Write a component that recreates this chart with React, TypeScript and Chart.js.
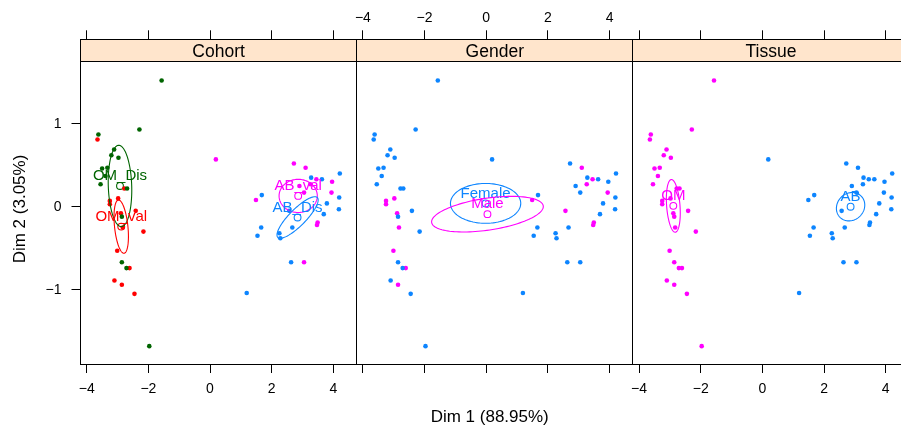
import React, { useEffect, useRef } from 'react';
import { Chart, registerables } from 'chart.js';
Chart.register(...registerables);

// ---- data (individual coordinates on Dim 1 / Dim 2) ----
const dim1 = [-1.57, -3.62, -3.65, -2.29, -3.11, -3.2, -2.97, -3.5, -3.33, -3.39, -3.55, -2.78, -2.69, -2.98, -3.25, -3.25, -2.41, -2.89, -2.86, -2.83, -2.16, -3.01, -2.86, -2.71, -2.61, -3.1, -2.86, -2.45, -1.97,
  0.19, 2.72, 3.1, 3.28, 3.45, 3.63, 3.96, 4.21, 2.9, 3.26, 3.05, 1.68, 1.49, 3.94, 4.19, 3.79, 4.18, 3.69, 2.57, 3.49, 3.47, 1.66, 1.54, 2.25, 2.28, 2.67, 2.63, 3.05, 1.19];
const dim2 = [1.52, 0.87, 0.81, 0.93, 0.69, 0.62, 0.59, 0.46, 0.47, 0.37, 0.27, 0.22, 0.22, 0.1, 0.07, 0.03, -0.05, -0.08, -0.12, -0.25, -0.3, -0.53, -0.67, -0.74, -0.74, -0.89, -0.94, -1.05, -1.68,
  0.57, 0.52, 0.47, 0.35, 0.33, 0.33, 0.3, 0.4, 0.25, 0.27, 0.17, 0.14, 0.08, 0.17, 0.11, 0.04, -0.03, -0.09, -0.05, -0.19, -0.22, -0.25, -0.35, -0.32, -0.38, -0.25, -0.67, -0.67, -1.04];
const cohort = ['OM_Dis', 'OM_Dis', 'OM_val', 'OM_Dis', 'OM_Dis', 'OM_Dis', 'OM_Dis', 'OM_Dis', 'OM_Dis', 'OM_Dis', 'OM_Dis', 'OM_val', 'OM_Dis', 'OM_val', 'OM_val', 'OM_val', 'OM_val', 'OM_val', 'OM_Dis', 'OM_val', 'OM_val', 'OM_val', 'OM_Dis', 'OM_Dis', 'OM_val', 'OM_val', 'OM_val', 'OM_val', 'OM_Dis',
  'AB_val', 'AB_val', 'AB_val', 'AB_Dis', 'AB_val', 'AB_Dis', 'AB_val', 'AB_Dis', 'AB_val', 'AB_val', 'AB_val', 'AB_Dis', 'AB_val', 'AB_val', 'AB_Dis', 'AB_Dis', 'AB_Dis', 'AB_Dis', 'AB_Dis', 'AB_val', 'AB_val', 'AB_Dis', 'AB_Dis', 'AB_Dis', 'AB_Dis', 'AB_Dis', 'AB_Dis', 'AB_val', 'AB_Dis'];
const gender = ['Female', 'Female', 'Female', 'Female', 'Female', 'Female', 'Female', 'Female', 'Female', 'Female', 'Female', 'Female', 'Female', 'Male', 'Male', 'Male', 'Female', 'Male', 'Female', 'Male', 'Female', 'Male', 'Female', 'Female', 'Male', 'Female', 'Male', 'Female', 'Female',
  'Female', 'Female', 'Male', 'Female', 'Male', 'Female', 'Female', 'Female', 'Female', 'Male', 'Female', 'Female', 'Male', 'Male', 'Female', 'Female', 'Female', 'Female', 'Male', 'Male', 'Male', 'Female', 'Female', 'Female', 'Female', 'Female', 'Female', 'Female', 'Female'];
const tissue = cohort.map((c) => (c.startsWith('OM') ? 'OM' : 'AB'));

// group centroids and ellipse half-axis vectors (data units)
const cohortLevels = ['OM_Dis', 'OM_val', 'AB_val', 'AB_Dis'];
const cohortCentX = [-2.92, -2.88, 2.86, 2.84];
const cohortCentY = [0.25, -0.24, 0.13, -0.13];
const cohortEllU = [[-0.04, 0.49], [-0.092, 0.321], [0.62, 0.0], [0.64, 0.24]];
const cohortEllV = [[0.38, 0.0], [0.215, 0.009], [0.0, 0.2], [0.19, -0.07]];

const genderLevels = ['Female', 'Male'];
const genderCentX = [-0.02, 0.04];
const genderCentY = [0.04, -0.09];
const genderEllU = [[1.14, 0.0], [1.81, 0.1]];
const genderEllV = [[0.0, 0.24], [0.076, -0.19]];

const tissueLevels = ['OM', 'AB'];
const tissueCentX = [-2.89, 2.86];
const tissueCentY = [0.01, 0.0];
const tissueEllU = [[-0.065, 0.317], [0.46, 0.02]];
const tissueEllV = [[0.216, 0.006], [0.0, 0.17]];

const xTicks = [-4, -2, 0, 2, 4];
const yTicks = [-1, 0, 1];

// ---- styles / layout ----
const GREEN = '#006400';
const RED = '#FF0000';
const MAGENTA = '#FF00FF';
const BLUE = '#0D85FF';
const FONT = '"Liberation Sans", Arial, Helvetica, sans-serif';
const W = 901;
const H = 431;
const PANEL_LEFT = 80.5;
const PANEL_W = 276.2;
const PANEL_TOP = 39.3;
const PANEL_BOTTOM = 364;
const STRIP_H = 22.4;
const X_MIN = -4.201;
const X_MAX = X_MIN + PANEL_W / 30.83;
const Y_PER = 83;
const Y_ZERO = 206.7;
const Y_MIN = -(PANEL_BOTTOM - Y_ZERO) / Y_PER;
const Y_MAX = (Y_ZERO - PANEL_TOP) / Y_PER;

const fmt = (v: number) => (v < 0 ? '\u2212' + Math.abs(v) : String(v));

const panels = [
  { strip: 'Cohort', key: cohort, levels: cohortLevels, colors: [GREEN, RED, MAGENTA, BLUE], cx: cohortCentX, cy: cohortCentY, eu: cohortEllU, ev: cohortEllV, bottomLabels: true, topLabels: false },
  { strip: 'Gender', key: gender, levels: genderLevels, colors: [BLUE, MAGENTA], cx: genderCentX, cy: genderCentY, eu: genderEllU, ev: genderEllV, bottomLabels: false, topLabels: true },
  { strip: 'Tissue', key: tissue, levels: tissueLevels, colors: [MAGENTA, BLUE], cx: tissueCentX, cy: tissueCentY, eu: tissueEllU, ev: tissueEllV, bottomLabels: true, topLabels: false },
];

function geom(i: number) {
  const pl = PANEL_LEFT + i * PANEL_W;
  const wl = i === 0 ? 0 : Math.floor(pl) - 20;
  const ww = Math.ceil(pl + PANEL_W + 20) - wl;
  return { pl, wl, ww, padLeft: i === 0 ? 0 : pl - wl, padRight: wl + ww - (pl + PANEL_W) };
}

const al = (v: number) => Math.floor(v) + 0.5;

function buildConfig(p: any, i: number) {
  const g = geom(i);
  const datasets: any[] = [];
  p.levels.forEach((lev: string, k: number) => {
    const pts: any[] = [];
    dim1.forEach((x, j) => {
      if (p.key[j] === lev) pts.push({ x, y: dim2[j] });
    });
    datasets.push({ label: lev, data: pts, backgroundColor: p.colors[k], borderWidth: 0, pointRadius: 2.3, pointHoverRadius: 2.3 });
  });
  p.levels.forEach((lev: string, k: number) => {
    datasets.push({ label: lev + ' centre', data: [{ x: p.cx[k], y: p.cy[k] }], backgroundColor: 'rgba(0,0,0,0)', borderColor: p.colors[k], borderWidth: 1.1, pointRadius: 3.4, pointHoverRadius: 3.4 });
  });

  const decor = {
    id: 'decor' + i,
    afterDatasetsDraw(chart: any) {
      const { ctx, chartArea, scales } = chart;
      const xs = scales.x;
      const ys = scales.y;
      ctx.save();
      ctx.beginPath();
      ctx.rect(chartArea.left, chartArea.top + STRIP_H, chartArea.right - chartArea.left, chartArea.bottom - chartArea.top - STRIP_H);
      ctx.clip();
      p.levels.forEach((lev: string, k: number) => {
        ctx.beginPath();
        for (let s = 0; s <= 120; s++) {
          const t = (s / 120) * Math.PI * 2;
          const dx = p.cx[k] + p.eu[k][0] * Math.cos(t) + p.ev[k][0] * Math.sin(t);
          const dy = p.cy[k] + p.eu[k][1] * Math.cos(t) + p.ev[k][1] * Math.sin(t);
          const px = xs.getPixelForValue(dx);
          const py = ys.getPixelForValue(dy);
          if (s === 0) ctx.moveTo(px, py);
          else ctx.lineTo(px, py);
        }
        ctx.closePath();
        ctx.strokeStyle = p.colors[k];
        ctx.lineWidth = 1.1;
        ctx.stroke();
        ctx.font = '15px ' + FONT;
        ctx.fillStyle = p.colors[k];
        ctx.textAlign = 'center';
        ctx.textBaseline = 'middle';
        ctx.fillText(lev, xs.getPixelForValue(p.cx[k]), ys.getPixelForValue(p.cy[k]) - 10);
      });
      ctx.restore();
    },
    afterDraw(chart: any) {
      const { ctx, chartArea } = chart;
      const l = al(chartArea.left);
      const r = al(chartArea.right);
      const t = al(chartArea.top);
      const b = al(chartArea.bottom);
      const sb = al(chartArea.top + STRIP_H);
      ctx.save();
      ctx.fillStyle = '#FFE5CC';
      ctx.fillRect(l, t, r - l, sb - t);
      ctx.strokeStyle = '#000';
      ctx.lineWidth = 1;
      ctx.strokeRect(l, t, r - l, b - t);
      ctx.beginPath();
      ctx.moveTo(l, sb);
      ctx.lineTo(r, sb);
      ctx.stroke();
      ctx.fillStyle = '#000';
      ctx.font = '17.5px ' + FONT;
      ctx.textAlign = 'center';
      ctx.textBaseline = 'alphabetic';
      ctx.fillText(p.strip, (chartArea.left + chartArea.right) / 2, 57.3);
      if (i === 1) {
        ctx.font = '17px ' + FONT;
        ctx.fillText('Dim 1 (88.95%)', 489.7 - g.wl, 421.7);
      }
      if (i === 0) {
        ctx.font = '17px ' + FONT;
        ctx.translate(20, 209);
        ctx.rotate(-Math.PI / 2);
        ctx.textBaseline = 'middle';
        ctx.fillText('Dim 2 (3.05%)', 0, 0);
      }
      ctx.restore();
    },
  };

  const gridOpts = { display: true, drawOnChartArea: false, drawTicks: true, tickLength: 9, color: '#000', lineWidth: 1 };
  const tickFont = { family: FONT, size: 14 };

  return {
    type: 'scatter',
    data: { datasets },
    options: {
      animation: false,
      responsive: true,
      maintainAspectRatio: false,
      events: [],
      layout: { padding: { left: g.padLeft, right: g.padRight, top: 0, bottom: 0 } },
      plugins: { legend: { display: false }, tooltip: { enabled: false } },
      scales: {
        x: {
          type: 'linear', position: 'bottom', min: X_MIN, max: X_MAX,
          afterBuildTicks: (s: any) => { s.ticks = xTicks.map((v) => ({ value: v })); },
          afterFit: (s: any) => { s.height = H - PANEL_BOTTOM; },
          grid: gridOpts, border: { display: false },
          ticks: { display: p.bottomLabels, font: tickFont, color: '#000', padding: 7.5, maxRotation: 0, autoSkip: false, callback: (v: number) => fmt(v) },
        },
        xTop: {
          type: 'linear', position: 'top', min: X_MIN, max: X_MAX,
          afterBuildTicks: (s: any) => { s.ticks = xTicks.map((v) => ({ value: v })); },
          afterFit: (s: any) => { s.height = PANEL_TOP; },
          grid: gridOpts, border: { display: false },
          ticks: { display: p.topLabels, font: tickFont, color: '#000', padding: 4, maxRotation: 0, autoSkip: false, callback: (v: number) => fmt(v) },
        },
        y: {
          type: 'linear', position: 'left', min: Y_MIN, max: Y_MAX, display: i === 0,
          afterBuildTicks: (s: any) => { s.ticks = yTicks.map((v) => ({ value: v })); },
          afterFit: (s: any) => { s.width = i === 0 ? PANEL_LEFT : 0; },
          grid: gridOpts, border: { display: false },
          ticks: { font: tickFont, color: '#000', padding: 10, autoSkip: false, callback: (v: number) => fmt(v) },
        },
      },
    },
    plugins: [decor],
  } as any;
}

export default function App() {
  const r0 = useRef<HTMLCanvasElement>(null);
  const r1 = useRef<HTMLCanvasElement>(null);
  const r2 = useRef<HTMLCanvasElement>(null);
  const refs = [r0, r1, r2];
  useEffect(() => {
    const charts = panels.map((p, i) => new Chart(refs[i].current as HTMLCanvasElement, buildConfig(p, i)));
    return () => charts.forEach((c) => c.destroy());
  }, []);
  return (
    <div style={{ position: 'absolute', left: 0, top: 0, width: W, height: H, overflow: 'hidden', background: '#fff' }}>
      {panels.map((p, i) => {
        const g = geom(i);
        return (
          <div key={i} style={{ position: 'absolute', left: g.wl, top: 0, width: g.ww, height: H }}>
            <canvas ref={refs[i]} />
          </div>
        );
      })}
    </div>
  );
}
